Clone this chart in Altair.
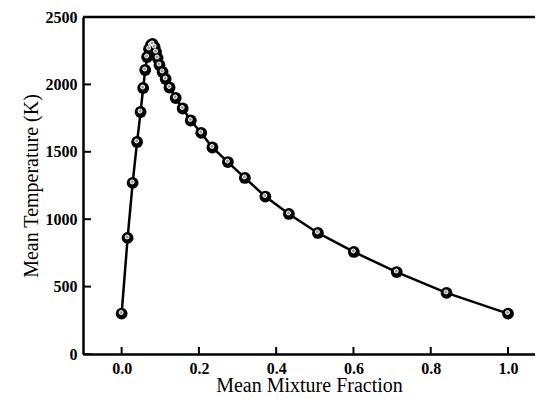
import altair as alt
import pandas as pd

# Mean mixture fraction and mean temperature (K)
Z = [0.0, 0.0155, 0.0285, 0.040, 0.049, 0.0557, 0.061, 0.066, 0.071, 0.076, 0.080,
     0.0855, 0.089, 0.093, 0.098, 0.106, 0.114, 0.124, 0.140, 0.158, 0.179, 0.206,
     0.235, 0.275, 0.319, 0.372, 0.433, 0.508, 0.601, 0.712, 0.841, 1.0]
T = [300, 861, 1269, 1573, 1795, 1973, 2107, 2203, 2263, 2292, 2300,
     2277, 2240, 2196, 2144, 2092, 2040, 1977, 1899, 1821, 1732, 1640,
     1532, 1424, 1306, 1168, 1039, 898, 757, 608, 453, 300]

x_ticks = [0.0, 0.2, 0.4, 0.6, 0.8, 1.0]
y_ticks = [0, 500, 1000, 1500, 2000, 2500]

W, H = 452, 337
FONT = "Liberation Serif"

df = pd.DataFrame({"Z": Z, "T": T, "i": list(range(len(Z)))})
xt = pd.DataFrame({"v": x_ticks})
yt = pd.DataFrame({"v": y_ticks})

xs = alt.Scale(domain=[-0.1, 1.0699], nice=False, zero=False)
ys = alt.Scale(domain=[0, 2500], nice=False)

xax = alt.Axis(values=x_ticks, format=".1f", ticks=False, grid=False,
               domainWidth=2.5, domainColor="black",
               labelFont=FONT, labelFontSize=16, labelFontWeight="bold",
               labelColor="black", labelPadding=6,
               title="Mean Mixture Fraction", titleFont=FONT, titleFontSize=20,
               titleFontWeight="normal", titleColor="black",
               titleBaseline="alphabetic", titleY=37)
yax = alt.Axis(values=y_ticks, format="d", ticks=False, grid=False,
               domainWidth=2.5, domainColor="black",
               labelFont=FONT, labelFontSize=16, labelFontWeight="bold",
               labelColor="black", labelPadding=6,
               title="Mean Temperature (K)", titleFont=FONT, titleFontSize=20,
               titleFontWeight="normal", titleColor="black", titlePadding=4)

line = alt.Chart(df).mark_line(color="black", strokeWidth=2.5).encode(
    x=alt.X("Z:Q", scale=xs, axis=xax),
    y=alt.Y("T:Q", scale=ys, axis=yax),
    order="i:Q",
)
balls = alt.Chart(df).mark_circle(color="black", opacity=1, size=140).encode(
    x=alt.X("Z:Q", scale=xs), y=alt.Y("T:Q", scale=ys)
)
shine = alt.Chart(df).mark_point(
    filled=True, fill="#9a9a9a", stroke="white", strokeWidth=1, opacity=1,
    size=16, xOffset=-0.5, yOffset=-1
).encode(x=alt.X("Z:Q", scale=xs), y=alt.Y("T:Q", scale=ys))

xtick = alt.Chart(xt).mark_rule(color="black", strokeWidth=2).encode(
    x=alt.X("v:Q", scale=xs), y=alt.value(H), y2=alt.value(H - 7)
)
ytick = alt.Chart(yt).mark_rule(color="black", strokeWidth=2).encode(
    y=alt.Y("v:Q", scale=ys), x=alt.value(0), x2=alt.value(8)
)
top = alt.Chart(pd.DataFrame({"v": [2500]})).mark_rule(color="black", strokeWidth=2.5).encode(
    y=alt.Y("v:Q", scale=ys), x=alt.value(0), x2=alt.value(W)
)

chart = alt.layer(line, balls, shine, xtick, ytick, top).properties(
    width=W, height=H,
    autosize=alt.AutoSizeParams(type="none"),
    padding={"left": 75, "top": 9, "right": 0, "bottom": 40},
).configure_view(stroke=None)

chart.save("out.html", embed_options={"renderer": "svg", "actions": False})
